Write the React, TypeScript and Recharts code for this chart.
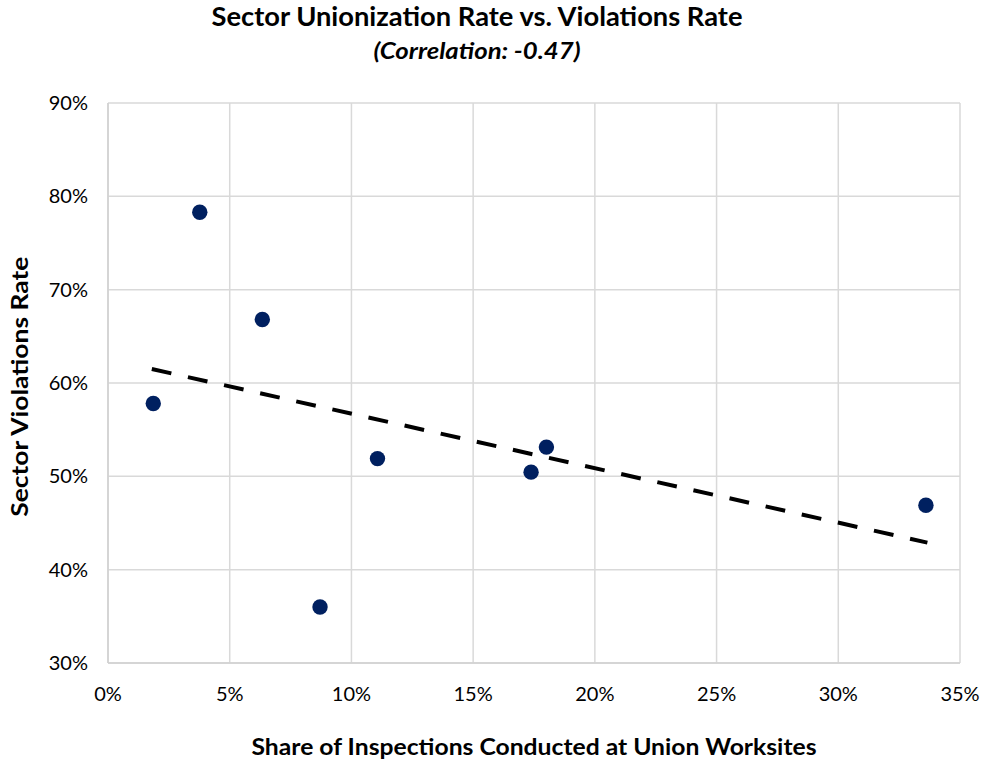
import React from 'react';
import { ScatterChart, Scatter, XAxis, YAxis, CartesianGrid } from 'recharts';

const unionShare = [1.86, 3.77, 6.34, 8.71, 11.07, 17.38, 18.01, 33.6];
const violationsRate = [57.8, 78.3, 66.8, 36.0, 51.9, 50.45, 53.13, 46.9];
const trendX = [1.8, 33.66];
const trendY = [61.5, 42.9];
const xTicks = [0, 5, 10, 15, 20, 25, 30, 35];
const yTicks = [30, 40, 50, 60, 70, 80, 90];

const points = unionShare.map((x, i) => ({ x, y: violationsRate[i] }));
const trend = trendX.map((x, i) => ({ x, y: trendY[i] }));

const FONT = 'Lato, "Open Sans", sans-serif';

export default function App() {
  return (
    <div style={{ position: 'absolute', left: 0, top: 0, width: 986, height: 763, background: '#fff' }}>
      <div style={{ position: 'absolute', left: 0, top: 0 }}>
        <ScatterChart width={986} height={763} margin={{ top: 103, right: 26, bottom: 0, left: 48 }}>
          <CartesianGrid stroke="#d9d9d9" strokeWidth={1.5} />
          <XAxis
            type="number"
            dataKey="x"
            domain={[0, 35]}
            ticks={xTicks}
            tickFormatter={(v) => `${v}%`}
            axisLine={{ stroke: '#d0d0d0', strokeWidth: 1.5 }}
            tickLine={false}
            tickSize={0}
            tickMargin={24}
            tick={{ fontFamily: FONT, fontSize: 20, fill: '#000' }}
            height={100}
            interval={0}
          />
          <YAxis
            type="number"
            dataKey="y"
            domain={[30, 90]}
            ticks={yTicks}
            tickFormatter={(v) => `${v}%`}
            axisLine={{ stroke: '#d0d0d0', strokeWidth: 1.5 }}
            tickLine={false}
            tickSize={0}
            tickMargin={20}
            tick={{ fontFamily: FONT, fontSize: 20, fill: '#000' }}
            width={60}
            interval={0}
          />
          <Scatter data={points} fill="#002060" isAnimationActive={false} shape={(p: any) => <circle cx={p.cx} cy={p.cy} r={7.7} fill="#002060" />} />
          <Scatter
            data={trend}
            isAnimationActive={false}
            line={{ stroke: '#000', strokeWidth: 4, strokeDasharray: '20 17' }}
            shape={() => <g />}
          />
        </ScatterChart>
      </div>
      <svg width={986} height={763} style={{ position: 'absolute', left: 0, top: 0, pointerEvents: 'none' }}>
        <text x={477} y={26} textAnchor="middle" fontFamily={FONT} fontWeight={700} fontSize={26} fill="#000" textLength={531} lengthAdjust="spacingAndGlyphs">
          Sector Unionization Rate vs. Violations Rate
        </text>
        <text x={477} y={59} textAnchor="middle" fontFamily={FONT} fontWeight={700} fontStyle="italic" fontSize={23} fill="#000" textLength={207} lengthAdjust="spacingAndGlyphs">
          (Correlation: -0.47)
        </text>
        <text x={534} y={755} textAnchor="middle" fontFamily={FONT} fontWeight={700} fontSize={22} fill="#000" textLength={565} lengthAdjust="spacingAndGlyphs">
          Share of Inspections Conducted at Union Worksites
        </text>
        <text x={0} y={0} transform="translate(28,386.7) rotate(-90)" textAnchor="middle" fontFamily={FONT} fontWeight={700} fontSize={22} fill="#000" textLength={260} lengthAdjust="spacingAndGlyphs">
          Sector Violations Rate
        </text>
      </svg>
    </div>
  );
}
